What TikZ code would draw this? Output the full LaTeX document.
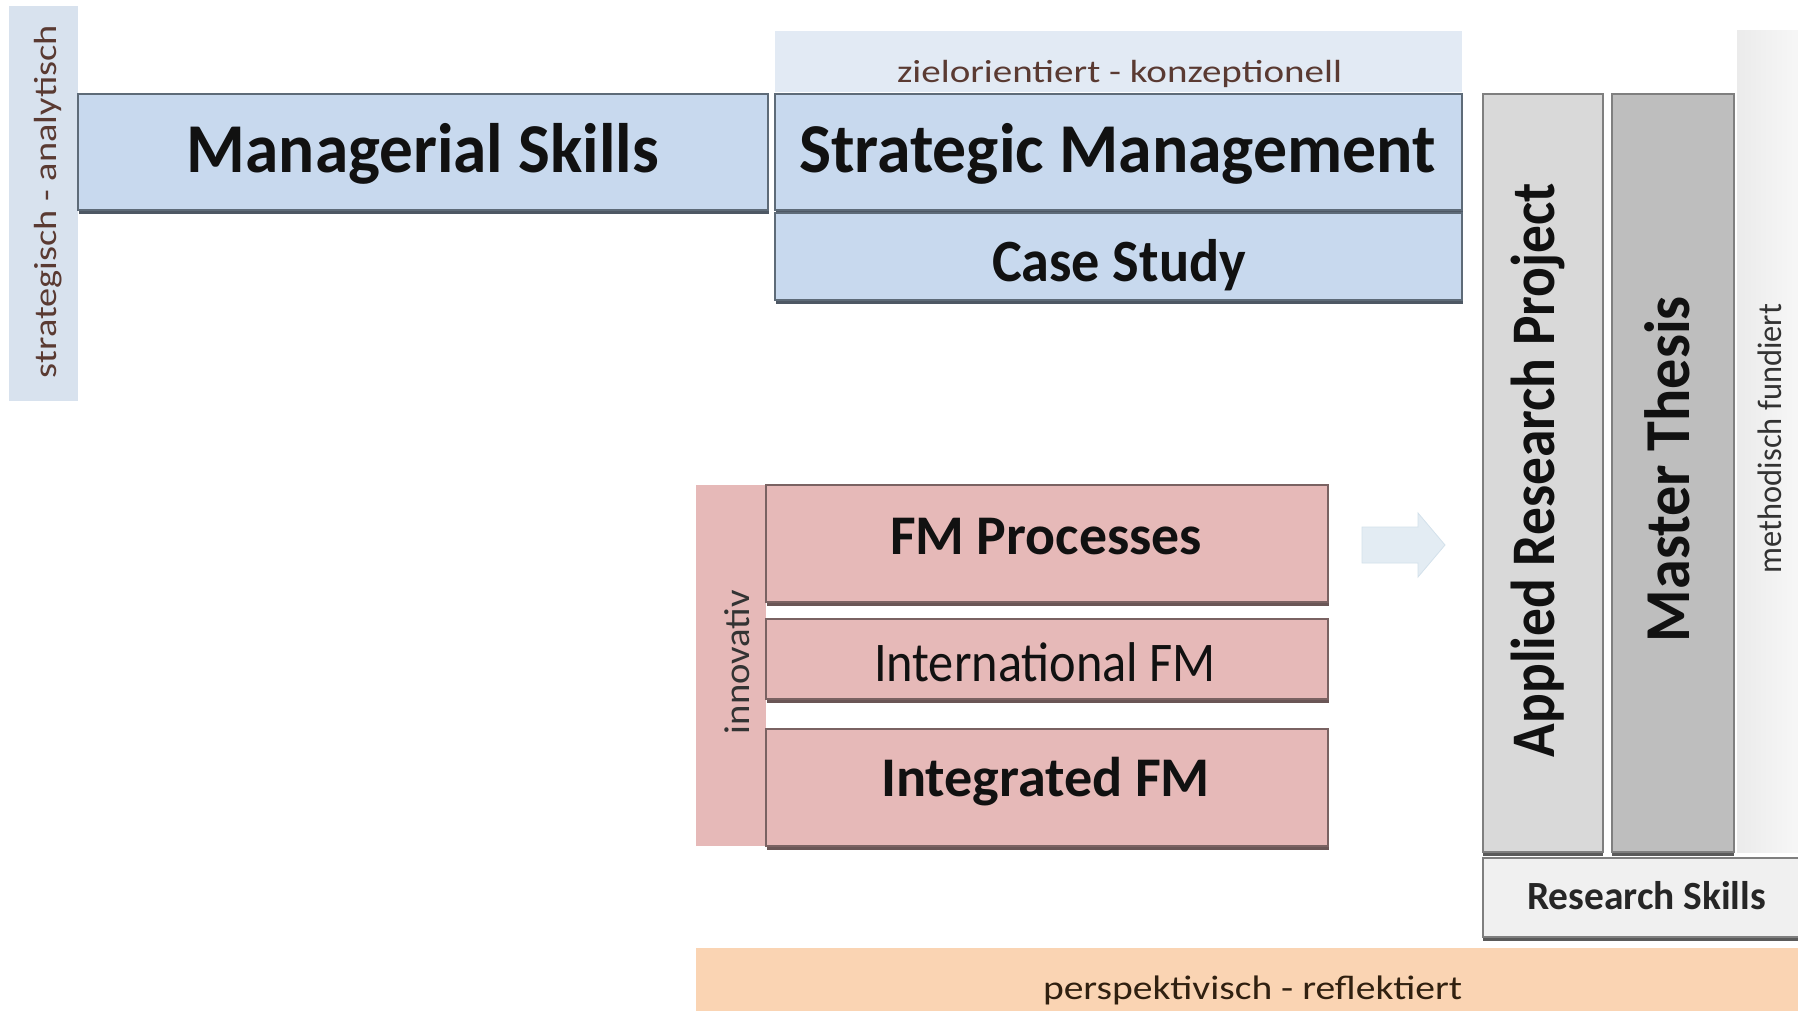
\documentclass[tikz,border=0pt]{standalone}
\usepackage{fontspec}
\setmainfont{Carlito}
\usepackage{graphicx}
\usetikzlibrary{shadows}
\definecolor{blueF}{HTML}{C8D9EE}
\definecolor{blueD}{HTML}{5E6B78}
\definecolor{blueS}{HTML}{4E5864}
\definecolor{blueL}{HTML}{E2EAF4}
\definecolor{blueBar}{HTML}{D8E2EE}
\definecolor{pinkF}{HTML}{E6B9B8}
\definecolor{pinkD}{HTML}{7A6262}
\definecolor{pinkS}{HTML}{6A5656}
\definecolor{grayA}{HTML}{D9D9D9}
\definecolor{grayM}{HTML}{BEBEBE}
\definecolor{grayD}{HTML}{7F7F7F}
\definecolor{grayS}{HTML}{5A5A5A}
\definecolor{grayL}{HTML}{F0F0F0}
\definecolor{mfL}{HTML}{EBEBEB}
\definecolor{mfR}{HTML}{F8F8F8}
\definecolor{peach}{HTML}{FAD4B3}
\definecolor{arrowF}{HTML}{E3ECF3}
\definecolor{arrowD}{HTML}{D3E1EB}
\definecolor{labelC}{HTML}{5A3A32}
\definecolor{txt}{HTML}{111111}
\newcommand\fitw[3]{\resizebox{#1}{\height}{\fontsize{#2}{#2}\selectfont #3}}
\begin{document}
\begin{tikzpicture}[x=1pt,y=-1pt,
  box/.style={rectangle, inner sep=0pt, outer sep=0pt},
  bluebox/.style={box, fill=blueF, draw=blueD, line width=1.2pt,
    drop shadow={shadow xshift=1pt, shadow yshift=-3.5pt, fill=blueS, opacity=1}},
  pinkbox/.style={box, fill=pinkF, draw=pinkD, line width=1.2pt,
    drop shadow={shadow xshift=1pt, shadow yshift=-3.5pt, fill=pinkS, opacity=1}},
  graybox/.style={box, draw=grayD, line width=1.2pt,
    drop shadow={shadow xshift=0pt, shadow yshift=-3.5pt, fill=grayS, opacity=1}},
  lab/.style={inner sep=0pt, outer sep=0pt, text=txt},
  small/.style={inner sep=0pt, outer sep=0pt, text=labelC}]
\useasboundingbox (0,0) rectangle (1798,1011);
\fill[white] (0,0) rectangle (1798,1011);
\clip (0,0) rectangle (1798,1011);

% left bar
\node[box, fill=blueBar, minimum width=69, minimum height=395] (sabar) at (43.5,203.5) {};
\node[small, rotate=90, anchor=base] (satext) at (56,201.5) {\fitw{353pt}{32}{strategisch - analytisch}};

% managerial skills
\node[bluebox, minimum width=690, minimum height=116] (ms) at (423,152) {};
\node[lab, anchor=base] (mstext) at (423,172) {\fitw{472pt}{70}{\bfseries Managerial Skills}};

% strategic management group
\node[box, fill=blueL, minimum width=687, minimum height=61] (zk) at (1118.5,61.5) {};
\node[small, anchor=base] (zktext) at (1119.5,83) {\fitw{445pt}{32}{zielorientiert - konzeptionell}};
\node[bluebox, minimum width=687, minimum height=116] (sm) at (1118.5,152) {};
\node[lab, anchor=base] (smtext) at (1117.5,172) {\fitw{637pt}{70}{\bfseries Strategic Management}};
\node[bluebox, minimum width=687, minimum height=87] (cs) at (1118.5,256.5) {};
\node[lab, anchor=base] (cstext) at (1119,281) {\fitw{254pt}{60}{\bfseries Case Study}};

% pink group
\node[box, fill=pinkF, minimum width=70, minimum height=361] (inbar) at (731,665.5) {};
\node[lab, rotate=90, anchor=base, text=black!80] (intext) at (749,662) {\fitw{144pt}{36}{innovativ}};
\node[pinkbox, minimum width=562, minimum height=117] (fmp) at (1047,543.5) {};
\node[lab, anchor=base] (fmptext) at (1046,554) {\fitw{312pt}{56}{\bfseries FM Processes}};
\node[pinkbox, minimum width=562, minimum height=80] (ifm) at (1047,659) {};
\node[lab, anchor=base] (ifmtext) at (1045,681) {\fitw{342pt}{56}{International FM}};
\node[pinkbox, minimum width=562, minimum height=117] (gfm) at (1047,787.5) {};
\node[lab, anchor=base] (gfmtext) at (1045.5,796) {\fitw{329pt}{56}{\bfseries Integrated FM}};

% faint arrow
\filldraw[fill=arrowF, draw=arrowD, line width=0.8pt]
  (1362,527) -- (1418,527) -- (1418,513) -- (1445,545) -- (1418,577) -- (1418,563) -- (1362,563) -- cycle;

% right research group
\node[box, left color=mfL, right color=mfR, minimum width=68, minimum height=821] (mf) at (1771,441.5) {};
\node[lab, rotate=90, anchor=base, text=black!80] (mftext) at (1781,438.5) {\fitw{269pt}{34}{methodisch fundiert}};
\node[graybox, fill=grayA, minimum width=120, minimum height=758] (arp) at (1543,473) {};
\node[lab, rotate=90, anchor=base] (arptext) at (1554,470) {\fitw{574pt}{62}{\bfseries Applied Research Project}};
\node[graybox, fill=grayM, minimum width=122, minimum height=758] (mt) at (1673,473) {};
\node[lab, rotate=90, anchor=base] (mttext) at (1689,469) {\fitw{346pt}{64}{\bfseries Master Thesis}};
\node[graybox, fill=grayL, minimum width=322, minimum height=79] (rs) at (1644,897.5) {};
\node[lab, anchor=base, text=black!85] (rstext) at (1646.5,909) {\fitw{239pt}{40}{\bfseries Research Skills}};

% bottom band
\node[box, fill=peach, minimum width=1109, minimum height=67] (pr) at (1250.5,981.5) {};
\node[small, anchor=base, text=black!75!brown] (prtext) at (1252.5,999) {\fitw{419pt}{34}{perspektivisch - reflektiert}};
\end{tikzpicture}
\end{document}
